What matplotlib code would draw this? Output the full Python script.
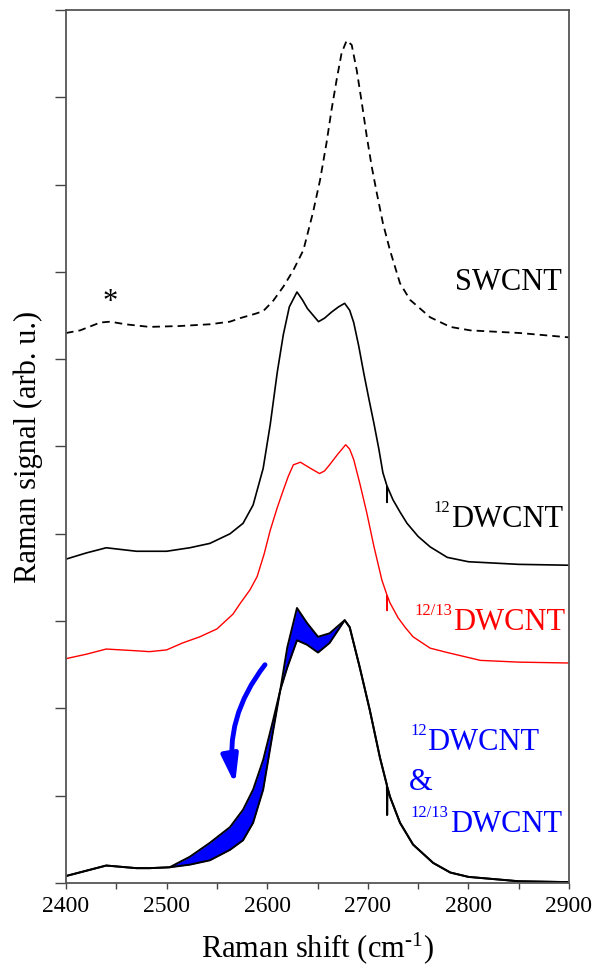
import matplotlib
matplotlib.use("Agg")
import matplotlib.pyplot as plt
from matplotlib.patches import FancyArrowPatch

plt.rcParams['font.family'] = ['Liberation Serif', 'DejaVu Serif']
plt.rcParams['mathtext.fontset'] = 'custom'
plt.rcParams['mathtext.rm'] = 'Liberation Serif'
plt.rcParams['mathtext.default'] = 'regular'

# ---------------- data (arbitrary offset units) ----------------
sw_x = [2400, 2414, 2434, 2444, 2459, 2483, 2513, 2543, 2563, 2573, 2588, 2596, 2606, 2616,
        2626, 2636, 2645.5, 2652.5, 2659, 2664, 2669, 2674, 2679, 2684, 2689, 2694, 2699,
        2704, 2709, 2715, 2722, 2732, 2742, 2762, 2782, 2802, 2851, 2900]
sw_y = [6.30, 6.33, 6.42, 6.43, 6.40, 6.37, 6.38, 6.40, 6.43, 6.47, 6.52, 6.55, 6.67, 6.83,
        7.02, 7.25, 7.68, 8.05, 8.48, 8.86, 9.20, 9.51, 9.65, 9.60, 9.31, 8.94, 8.55,
        8.20, 7.90, 7.56, 7.25, 6.87, 6.68, 6.48, 6.37, 6.33, 6.30, 6.25]

d12_x = [2400, 2420, 2440, 2470, 2500, 2523, 2543, 2563, 2576, 2586, 2596, 2603, 2610, 2616,
         2622, 2629.6, 2635, 2640, 2651, 2657, 2664, 2671, 2677, 2682, 2686, 2691, 2696,
         2701, 2706, 2711, 2715, 2719, 2719.2, 2719.4, 2725, 2732, 2739, 2750, 2762, 2779,
         2800, 2850, 2900]
d12_y = [3.71, 3.78, 3.84, 3.80, 3.80, 3.84, 3.89, 4.00, 4.12, 4.33, 4.75, 5.25, 5.85, 6.28,
         6.60, 6.77, 6.68, 6.58, 6.43, 6.47, 6.54, 6.60, 6.64, 6.56, 6.42, 6.15, 5.84,
         5.55, 5.27, 4.97, 4.70, 4.55, 4.36, 4.54, 4.39, 4.25, 4.12, 3.97, 3.85, 3.73,
         3.68, 3.65, 3.64]

d1213_x = [2400, 2420, 2440, 2470, 2483, 2500, 2516, 2533, 2550, 2566, 2573, 2583, 2590, 2597,
           2603, 2610, 2616, 2621, 2626, 2633, 2643, 2652, 2657, 2662, 2670, 2678, 2682,
           2686, 2692, 2699, 2706, 2714, 2719, 2719.2, 2719.4, 2722, 2730, 2737, 2745, 2762,
           2779, 2812, 2850, 2900]
d1213_y = [2.57, 2.62, 2.68, 2.66, 2.65, 2.67, 2.75, 2.82, 2.91, 3.08, 3.20, 3.36, 3.51, 3.77,
           4.04, 4.30, 4.50, 4.66, 4.79, 4.82, 4.75, 4.69, 4.72, 4.79, 4.91, 5.02, 4.97,
           4.85, 4.58, 4.24, 3.86, 3.47, 3.30, 3.12, 3.29, 3.21, 3.04, 2.93, 2.82, 2.69,
           2.64, 2.55, 2.53, 2.52]

# bottom pair: normalised 12DWCNT (a) and 12/13DWCNT (b) on a common x grid
bot_x = [2400, 2420, 2440, 2470, 2483, 2503, 2523, 2543, 2563, 2576, 2586, 2596, 2606, 2613,
         2620, 2629.6, 2639.5, 2650.5, 2662, 2677, 2682, 2692, 2702, 2712, 2719, 2719.2,
         2719.4, 2722, 2732, 2745, 2765, 2782, 2800, 2850, 2900]
bot_a = [0.08, 0.14, 0.20, 0.17, 0.17, 0.18, 0.21, 0.26, 0.38, 0.49, 0.69, 1.07, 1.75, 2.21,
         2.70, 3.15, 2.98, 2.82, 2.86, 3.01, 2.93, 2.47, 1.98, 1.44, 1.12, 0.78,
         1.10, 0.99, 0.69, 0.44, 0.23, 0.12, 0.07, 0.02, 0.01]
bot_b = [0.08, 0.14, 0.20, 0.17, 0.17, 0.18, 0.30, 0.46, 0.64, 0.84, 1.07, 1.41, 1.87, 2.21,
         2.47, 2.78, 2.73, 2.64, 2.75, 3.01, 2.93, 2.47, 1.98, 1.44, 1.12, 0.78,
         1.10, 0.99, 0.69, 0.44, 0.23, 0.12, 0.07, 0.02, 0.01]

x_major = [2400, 2500, 2600, 2700, 2800, 2900]
x_minor = [2450, 2550, 2650, 2750, 2850]
y_ticks = list(range(0, 11))

# ---------------- figure ----------------
fig = plt.figure(figsize=(5.94, 9.67), dpi=100)
ax = fig.add_axes([66/594, 1-883/967, (569-66)/594, (883-10)/967])

ax.plot(sw_x, sw_y, color='black', lw=1.3, linestyle=(0, (4.2, 2.8)))
ax.plot(d12_x, d12_y, color='black', lw=1.2)
ax.plot(d1213_x, d1213_y, color='#ff0000', lw=1.0)
ax.fill_between(bot_x, bot_a, bot_b, color='#0000ff', lw=0)
ax.plot(bot_x, bot_a, color='black', lw=1.4)
ax.plot(bot_x, bot_b, color='black', lw=1.4)

ax.set_xlim(2400, 2900)
ax.set_ylim(0, 10)
ax.set_xticks(x_major)
ax.set_xticks(x_minor, minor=True)
ax.set_yticks(y_ticks)
ax.set_yticklabels([])
ax.tick_params(axis='x', which='both', direction='out', length=4, width=1.0,
               color='#444444', labelsize=17, pad=5)
ax.tick_params(axis='y', which='both', direction='out', length=8, width=1.0,
               color='#444444')
for s in ax.spines.values():
    s.set_color('#555555')
    s.set_linewidth(1.3)

ax.set_xlabel(r'Raman shift (cm$^{\text{-1}}$)', fontsize=22)
ax.set_ylabel('Raman signal (arb. u.)', fontsize=22)
ax.xaxis.set_label_coords(0.5, -0.054)
ax.yaxis.set_label_coords(-0.046, 0.5)

# labels (main text 22 pt, superscripts 12 pt raised by ~15 px)
SUP = 0.172
ax.text(2893, 6.79, 'SWCNT', fontsize=22, ha='right', va='baseline', color='black')

ax.text(2894, 4.08, 'DWCNT', fontsize=22, ha='right', va='baseline', color='black')
ax.text(2781.7, 4.08 + SUP, '12', fontsize=12, ha='right', va='baseline', color='black')

ax.text(2896, 2.90, 'DWCNT', fontsize=22, ha='right', va='baseline', color='#ff0000')
ax.text(2783.7, 2.90 + SUP, '12/13', fontsize=12, ha='right', va='baseline', color='#ff0000')

ax.text(2742, 1.52 + SUP, '12', fontsize=12, ha='left', va='baseline', color='#0000ff')
ax.text(2758.8, 1.52, 'DWCNT', fontsize=22, ha='left', va='baseline', color='#0000ff')
ax.text(2741, 1.06, '&', fontsize=22, ha='left', va='baseline', color='#0000ff')
ax.text(2742, 0.58 + SUP, '12/13', fontsize=12, ha='left', va='baseline', color='#0000ff')
ax.text(2781.7, 0.58, 'DWCNT', fontsize=22, ha='left', va='baseline', color='#0000ff')

ax.text(2443.7, 6.56, '*', fontsize=22, ha='center', va='baseline', color='black')

arrow = FancyArrowPatch((2597.8, 2.50), (2568, 1.13),
                        connectionstyle='arc3,rad=0.22',
                        arrowstyle='-|>,head_length=0.85,head_width=0.25',
                        mutation_scale=20, color='#0000ff', lw=3.5,
                        capstyle='round', shrinkA=0, shrinkB=0)
ax.add_patch(arrow)

fig.savefig('out.png', dpi=100)
